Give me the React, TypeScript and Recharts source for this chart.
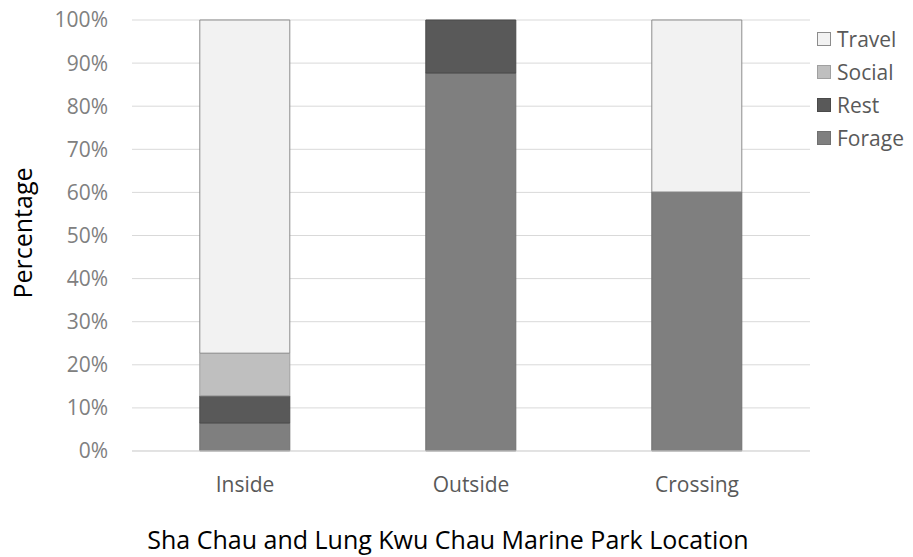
import React from "react";
import { BarChart, Bar, XAxis, YAxis, CartesianGrid, Legend, Label } from "recharts";

const categories = ["Inside", "Outside", "Crossing"];
const forage = [6.5, 87.7, 60.1];
const rest = [6.3, 12.3, 0];
const social = [9.9, 0, 0];
const travel = [77.3, 0, 39.9];
const yTicks = [0, 10, 20, 30, 40, 50, 60, 70, 80, 90, 100];

const data = categories.map((c, i) => ({
  name: c,
  Forage: forage[i],
  Rest: rest[i],
  Social: social[i],
  Travel: travel[i],
}));

const FONT = "'Open Sans', sans-serif";

const legendItems = [
  { name: "Travel", fill: "#f2f2f2", stroke: "#8c8c8c" },
  { name: "Social", fill: "#bfbfbf", stroke: "#a0a0a0" },
  { name: "Rest", fill: "#595959", stroke: "#4a4a4a" },
  { name: "Forage", fill: "#7f7f7f", stroke: "#707070" },
];

const renderLegend = () => (
  <div style={{ fontFamily: FONT, fontSize: 21, color: "#595959" }}>
    {legendItems.map((it) => (
      <div key={it.name} style={{ display: "flex", alignItems: "center", height: 33 }}>
        <span
          style={{
            display: "inline-block",
            width: 12,
            height: 12,
            background: it.fill,
            border: `1px solid ${it.stroke}`,
            marginRight: 6,
          }}
        />
        <span>{it.name}</span>
      </div>
    ))}
  </div>
);

export default function App() {
  return (
    <div style={{ position: "absolute", left: 0, top: 0, width: 913, height: 557, background: "#fff" }}>
      <BarChart
        width={913}
        height={557}
        data={data}
        margin={{ top: 20, right: 3, bottom: 0, left: 0 }}
        barCategoryGap="30%"
      >
        <CartesianGrid vertical={false} stroke="#d9d9d9" />
        <XAxis
          dataKey="name"
          height={106}
          tickLine={false}
          axisLine={{ stroke: "#d9d9d9" }}
          tickMargin={20}
          tick={{ fill: "#595959", fontSize: 21, fontFamily: FONT }}
        >
          <Label
            value="Sha Chau and Lung Kwu Chau Marine Park Location"
            position="insideBottom"
            offset={8}
            dx={-23}
            style={{ fill: "#000", fontSize: 25, fontFamily: FONT }}
          />
        </XAxis>
        <YAxis
          width={132}
          domain={[0, 100]}
          ticks={yTicks}
          interval={0}
          tickFormatter={(v) => `${v}%`}
          tickLine={false}
          axisLine={false}
          tickMargin={18}
          tick={{ fill: "#808080", fontSize: 21, fontFamily: FONT }}
        >
          <Label
            content={() => (
              <text
                x={22}
                y={233}
                transform="rotate(-90 22 233)"
                textAnchor="middle"
                dominantBaseline="central"
                style={{ fill: "#000", fontSize: 25, fontFamily: FONT }}
              >
                Percentage
              </text>
            )}
          />
        </YAxis>
        <Legend
          layout="vertical"
          align="right"
          verticalAlign="top"
          content={renderLegend}
          wrapperStyle={{ left: 817, top: 22, width: 100 }}
        />
        <Bar dataKey="Forage" stackId="a" fill="#7f7f7f" stroke="#707070" isAnimationActive={false} />
        <Bar dataKey="Rest" stackId="a" fill="#595959" stroke="#4a4a4a" isAnimationActive={false} />
        <Bar dataKey="Social" stackId="a" fill="#bfbfbf" stroke="#a0a0a0" isAnimationActive={false} />
        <Bar dataKey="Travel" stackId="a" fill="#f2f2f2" stroke="#8c8c8c" isAnimationActive={false} />
      </BarChart>
    </div>
  );
}
